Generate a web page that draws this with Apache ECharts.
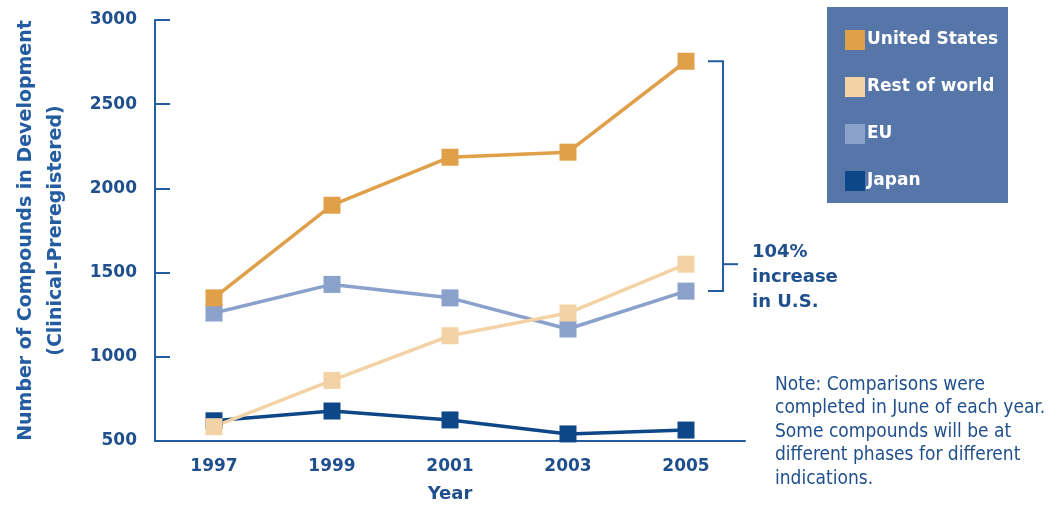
<!DOCTYPE html>
<html>
<head>
<meta charset="utf-8">
<script src="https://cdn.jsdelivr.net/npm/echarts@6/dist/echarts.min.js"></script>
<style>
html,body{margin:0;padding:0;background:#fff;}
#c{width:1058px;height:506px;}
</style>
</head>
<body>
<div id="c"></div>
<script>
// ---- data ----
const years = ['1997', '1999', '2001', '2003', '2005'];
const unitedStates = [1350, 1900, 2185, 2215, 2755];
const restOfWorld = [585, 860, 1125, 1260, 1550];
const eu = [1260, 1430, 1350, 1165, 1390];
const japan = [620, 678, 625, 542, 565];
const yTicks = { min: 500, max: 3000, interval: 500 };
const legendOrder = ['United States', 'Rest of world', 'EU', 'Japan'];

const C = {
  us: '#E0A04A', row: '#F3D3A6', eu: '#8AA1CC', jp: '#0E4787',
  axis: '#245CA2', text: '#1F4F8C', legendBg: '#5676A9'
};
const BOLD = '"DejaVu Sans", sans-serif';
const NARROW = '"Liberation Sans Narrow", "DejaVu Sans Condensed", "Liberation Sans", sans-serif';

const chart = echarts.init(document.getElementById('c'), null, { renderer: 'canvas' });

function mk(name, data, color) {
  return {
    name, type: 'line', data,
    symbol: 'rect', symbolSize: 17,
    lineStyle: { color, width: 3.5 },
    itemStyle: { color },
    emphasis: { disabled: true },
    animation: false
  };
}

const option = {
  animation: false,
  grid: { left: 155, right: 313, top: 20, bottom: 65, containLabel: false, outerBoundsMode: 'none' },
  legend: {
    data: legendOrder,
    orient: 'vertical',
    left: 840, top: 25,
    icon: 'rect',
    itemWidth: 20, itemHeight: 20, itemGap: 27,
    textStyle: { color: '#ffffff', fontFamily: BOLD, fontWeight: 'bold', fontSize: 17, padding: [0, 0, 0, -3] },
    selectedMode: false
  },
  xAxis: {
    type: 'category', data: years, boundaryGap: true,
    name: 'Year', nameLocation: 'middle', nameGap: 44,
    nameTextStyle: { color: C.text, fontFamily: BOLD, fontWeight: 'bold', fontSize: 18 },
    axisLine: { lineStyle: { color: C.axis, width: 2 } },
    axisTick: { inside: true, length: 11, lineStyle: { color: C.axis, width: 2 } },
    axisLabel: { color: C.text, fontFamily: BOLD, fontWeight: 'bold', fontSize: 17, margin: 17 },
    splitLine: { show: false }
  },
  yAxis: {
    type: 'value', min: yTicks.min, max: yTicks.max, interval: yTicks.interval,
    name: 'Number of Compounds in Development\n(Clinical-Preregistered)',
    nameLocation: 'middle', nameGap: 84, nameRotate: 90,
    nameTextStyle: { color: C.axis, fontFamily: BOLD, fontWeight: 'bold', fontSize: 19, lineHeight: 30, align: 'center' },
    axisLine: { show: true, lineStyle: { color: C.axis, width: 2 } },
    axisTick: { show: true, inside: true, length: 15, lineStyle: { color: C.axis, width: 2 } },
    axisLabel: { color: C.text, fontFamily: BOLD, fontWeight: 'bold', fontSize: 17, margin: 18,
                 formatter: v => String(v) },
    splitLine: { show: false }
  },
  series: [
    mk('Japan', japan, C.jp),
    mk('EU', eu, C.eu),
    mk('Rest of world', restOfWorld, C.row),
    mk('United States', unitedStates, C.us)
  ]
};
chart.setOption(option);

// annotation bracket computed from the scales
const last = years.length - 1;
const pTop = chart.convertToPixel({ gridIndex: 0 }, [last, unitedStates[last]]);
const pBot = chart.convertToPixel({ gridIndex: 0 }, [last, eu[last]]);
const pMid = chart.convertToPixel({ gridIndex: 0 }, [last, restOfWorld[last]]);
const bx = pTop[0] + 37;
const lineSt = { stroke: C.axis, lineWidth: 2, fill: null };

chart.setOption({
  graphic: [
    { type: 'rect', z: -1, shape: { x: 827, y: 7, width: 181, height: 196 }, style: { fill: C.legendBg } },
    { type: 'polyline', shape: { points: [[bx - 15, pTop[1]], [bx, pTop[1]], [bx, pBot[1]], [bx - 15, pBot[1]]] }, style: lineSt },
    { type: 'line', shape: { x1: bx, y1: pMid[1], x2: bx + 15, y2: pMid[1] }, style: lineSt },
    { type: 'text', left: 752, top: 240,
      style: { text: '104%\nincrease\nin U.S.', fill: C.text, font: 'bold 18px ' + BOLD, lineHeight: 25 } },
    { type: 'text', left: 775, top: 373,
      style: { text: 'Note: Comparisons were\ncompleted in June of each year.\nSome compounds will be at\ndifferent phases for different\nindications.',
               fill: C.text, font: '19px ' + NARROW, lineHeight: 23.5 } }
  ]
});
</script>
</body>
</html>
